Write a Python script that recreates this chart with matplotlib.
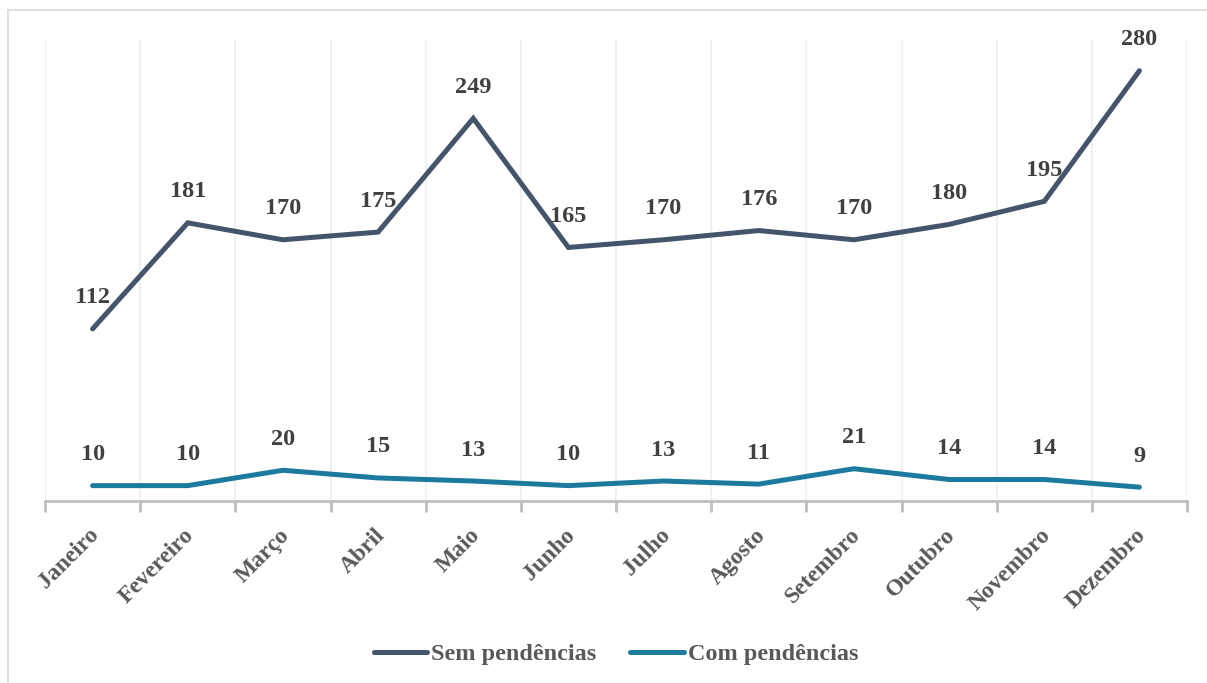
import matplotlib
matplotlib.use("Agg")
import matplotlib.pyplot as plt
from matplotlib.lines import Line2D
from matplotlib.transforms import ScaledTranslation

months = ["Janeiro", "Fevereiro", "Março", "Abril", "Maio", "Junho", "Julho",
          "Agosto", "Setembro", "Outubro", "Novembro", "Dezembro"]
sem_pendencias = [112, 181, 170, 175, 249, 165, 170, 176, 170, 180, 195, 280]
com_pendencias = [10, 10, 20, 15, 13, 10, 13, 11, 21, 14, 14, 9]

C_SEM = "#44546A"
C_COM = "#1B7A9E"
TXT = "#404040"
LBL = "#595959"
FONT = ["Liberation Serif", "DejaVu Serif"]

fig = plt.figure(figsize=(12.07, 6.83), dpi=100)
fig.patch.set_facecolor("white")
ax = fig.add_axes([45/1207, 1-501/683, (1187-45)/1207, (501-40)/683])

x = list(range(len(months)))
ax.plot(x, sem_pendencias, color=C_SEM, lw=3.6, solid_capstyle="round", solid_joinstyle="miter", label="Sem pendências", zorder=3)
ax.plot(x, com_pendencias, color=C_COM, lw=3.6, solid_capstyle="round", solid_joinstyle="miter", label="Com pendências", zorder=3)

for xi, v in zip(x, sem_pendencias):
    ax.annotate(str(v), (xi, v), xytext=(0, 31), textcoords="offset pixels",
                ha="center", va="center", fontsize=17.5, fontweight="bold", color=TXT, family=FONT)
for xi, v in zip(x, com_pendencias):
    ax.annotate(str(v), (xi, v), xytext=(0, 31), textcoords="offset pixels",
                ha="center", va="center", fontsize=17.5, fontweight="bold", color=TXT, family=FONT)

ax.set_xlim(-0.5, len(months) - 0.5)
ax.set_ylim(0, 300)
for b in [i - 0.5 for i in range(len(months) + 1)]:
    ax.axvline(b, color="#EDEDED", lw=1.2, zorder=1)

for s in ["top", "right", "left"]:
    ax.spines[s].set_visible(False)
ax.spines["bottom"].set_color("#BFBFBF")
ax.spines["bottom"].set_linewidth(2)
ax.set_yticks([])
ax.set_xticks([i - 0.5 for i in range(len(months) + 1)])
ax.set_xticklabels([])
ax.tick_params(axis="x", direction="out", length=8, width=2, color="#BFBFBF")
ax.set_xticks(x, minor=True)
ax.set_xticklabels(months, minor=True, rotation=45, ha="right", rotation_mode="anchor",
                   fontsize=17, fontweight="bold", color=LBL, family=FONT)
ax.tick_params(axis="x", which="minor", length=0, pad=17)
shift = ScaledTranslation(-4/100, 0, fig.dpi_scale_trans)
for lab in ax.get_xticklabels(minor=True):
    lab.set_transform(lab.get_transform() + shift)

handles = [Line2D([0], [0], color=C_SEM, lw=3.6, solid_capstyle="round"),
           Line2D([0], [0], color=C_COM, lw=3.6, solid_capstyle="round")]
leg = fig.legend(handles, ["Sem pendências", "Com pendências"], loc="center",
                 bbox_to_anchor=(616/1207, 1-654/683), ncol=2, frameon=False,
                 handlelength=2.2, handletextpad=0.15, columnspacing=1.4,
                 prop={"family": FONT, "weight": "bold", "size": 17.5})
for t in leg.get_texts():
    t.set_color(LBL)

# outer frame lines (left and top)
fig.add_artist(Line2D([8/1207, 8/1207], [0, 1-10/683], transform=fig.transFigure, color="#D9D9D9", lw=1.2))
fig.add_artist(Line2D([8/1207, 1], [1-10/683, 1-10/683], transform=fig.transFigure, color="#D9D9D9", lw=1.2))

fig.savefig("out.png", dpi=100, facecolor="white")
